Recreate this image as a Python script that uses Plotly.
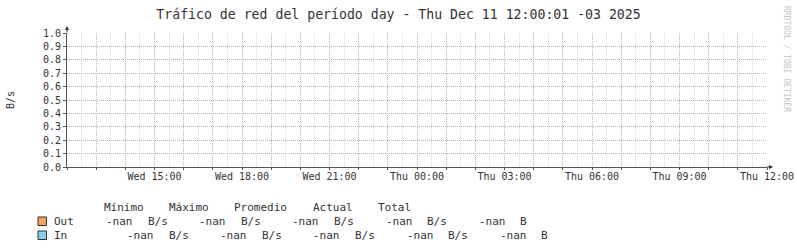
import plotly.graph_objects as go

# ---------------- data ----------------
times = ["2025-12-10 12:00", "2025-12-10 15:00", "2025-12-10 18:00", "2025-12-10 21:00",
         "2025-12-11 00:00", "2025-12-11 03:00", "2025-12-11 06:00", "2025-12-11 09:00",
         "2025-12-11 12:00"]
out_values = [None, None, None, None, None, None, None, None, None]
in_values = [None, None, None, None, None, None, None, None, None]
x_start = "2025-12-10 12:00:00"
x_end = "2025-12-11 12:00:00"
tick_times = ["2025-12-10 15:00", "2025-12-10 18:00", "2025-12-10 21:00", "2025-12-11 00:00",
              "2025-12-11 03:00", "2025-12-11 06:00", "2025-12-11 09:00", "2025-12-11 12:00"]
tick_labels = ["Wed 15:00", "Wed 18:00", "Wed 21:00", "Thu 00:00",
               "Thu 03:00", "Thu 06:00", "Thu 09:00", "Thu 12:00"]
stat_headers = ["Mínimo", "Máximo", "Promedio", "Actual", "Total"]
series_names = ["Out", "In"]
series_colors = ["#F4A460", "#87CEEB"]
out_stats = ["-nan", "-nan", "-nan", "-nan", "-nan"]
in_stats = ["-nan", "-nan", "-nan", "-nan", "-nan"]
stat_units = ["B/s", "B/s", "B/s", "B/s", "B"]
title_text = "Tráfico de red del período day - Thu Dec 11 12:00:01 -03 2025"

# ---------------- layout geometry ----------------
W, H = 797, 249
L, R, T, B = 67, 767, 33, 167
PW, PH = R - L, B - T
MONO = "DejaVu Sans Mono"
AXC = "#555555"
TXT = "#333333"
DOT = "1px,1px"


def px(x):
    return (x - L) / PW


def py(y):
    return (B - y) / PH


fig = go.Figure()
fig.add_trace(go.Scatter(x=times, y=out_values, mode="lines", line=dict(color=series_colors[0]),
                         showlegend=False, connectgaps=False))
fig.add_trace(go.Scatter(x=times, y=in_values, mode="lines", line=dict(color=series_colors[1]),
                         showlegend=False, connectgaps=False))
fig.add_trace(go.Scatter(x=[x_start, x_end], y=[None, None], xaxis="x2", mode="lines",
                         showlegend=False, hoverinfo="skip"))

fig.update_layout(
    width=W, height=H, autosize=False,
    margin=dict(l=L, r=W - R, t=T, b=H - B, pad=0, autoexpand=False),
    paper_bgcolor="white", plot_bgcolor="white",
    font=dict(family=MONO, size=10, color=TXT),
    title=dict(text=title_text, x=0.5, xref="container", xanchor="center",
               y=1 - 14 / H, yref="container", yanchor="middle",
               font=dict(family=MONO, size=13.2, color=TXT), automargin=False),
    xaxis=dict(type="date", range=[x_start, x_end], tickvals=tick_times, ticktext=tick_labels,
               showgrid=False, zeroline=False, showline=True, linecolor=AXC, linewidth=1,
               ticks="", tickfont=dict(family=MONO, size=10, color=TXT),
               automargin=False, fixedrange=True),
    xaxis2=dict(type="date", range=[x_start, x_end], overlaying="x", anchor="y", side="bottom",
                dtick=3600000, showticklabels=False, showgrid=True, gridcolor="#b4b4b4",
                griddash=DOT, gridwidth=1, ticks="outside", ticklen=2, tickcolor=AXC,
                showline=False, zeroline=False, automargin=False,
                minor=dict(dtick=1800000, showgrid=True, gridcolor="#d8d8d8", griddash=DOT,
                           gridwidth=1)),
    yaxis=dict(range=[0, 1.0], dtick=0.1, tickformat=".1f", showgrid=True, gridcolor="#b4b4b4",
               griddash=DOT, gridwidth=1, zeroline=False, showline=True, linecolor=AXC,
               linewidth=1, ticks="outside", ticklen=3, tickcolor=AXC, automargin=False,
               tickfont=dict(family=MONO, size=10, color=TXT), fixedrange=True),
)

ann = []
# y-axis label
ann.append(dict(text="B/s", xref="paper", yref="paper", x=px(10), y=py(100), textangle=-90,
                showarrow=False, xanchor="center", yanchor="middle",
                font=dict(family=MONO, size=10, color=TXT)))
# watermark
ann.append(dict(text="RRDTOOL / TOBI OETIKER", xref="paper", yref="paper", x=px(787), y=py(59),
                textangle=90, showarrow=False, xanchor="center", yanchor="middle",
                font=dict(family=MONO, size=8, color="#c4c4c4")))
# axis arrows
ann.append(dict(text="", xref="paper", yref="paper", x=0, y=py(26), ax=0, ay=8, showarrow=True,
                arrowhead=2, arrowsize=0.8, arrowwidth=1, arrowcolor=TXT))
ann.append(dict(text="", xref="paper", yref="paper", x=px(773), y=0, ax=-8, ay=0, showarrow=True,
                arrowhead=2, arrowsize=0.8, arrowwidth=1, arrowcolor=TXT))

# legend headers
header_x = [102, 167, 232, 311, 376]
for hx, h in zip(header_x, stat_headers):
    ann.append(dict(text=h, xref="paper", yref="paper", x=px(hx), y=py(207), showarrow=False,
                    xanchor="left", yanchor="middle", font=dict(family=MONO, size=11, color=TXT)))

rows = [(out_stats, 221, 104), (in_stats, 235, 125)]
shapes = []
for i, (stats, ry, vx0) in enumerate(rows):
    shapes.append(dict(type="rect", xref="paper", yref="paper", x0=px(38), x1=px(46.5),
                       y0=py(ry + 4.5), y1=py(ry - 4), fillcolor=series_colors[i],
                       line=dict(color=TXT, width=1)))
    ann.append(dict(text=series_names[i], xref="paper", yref="paper", x=px(52), y=py(ry),
                    showarrow=False, xanchor="left", yanchor="middle",
                    font=dict(family=MONO, size=11, color=TXT)))
    for j, (v, u) in enumerate(zip(stats, stat_units)):
        vx = vx0 + j * 93.2
        ann.append(dict(text=v, xref="paper", yref="paper", x=px(vx), y=py(ry), showarrow=False,
                        xanchor="left", yanchor="middle", font=dict(family=MONO, size=11, color=TXT)))
        ann.append(dict(text=u, xref="paper", yref="paper", x=px(vx + 41.5), y=py(ry), showarrow=False,
                        xanchor="left", yanchor="middle", font=dict(family=MONO, size=11, color=TXT)))

fig.update_layout(annotations=ann, shapes=shapes)
fig.write_html("out.html")
